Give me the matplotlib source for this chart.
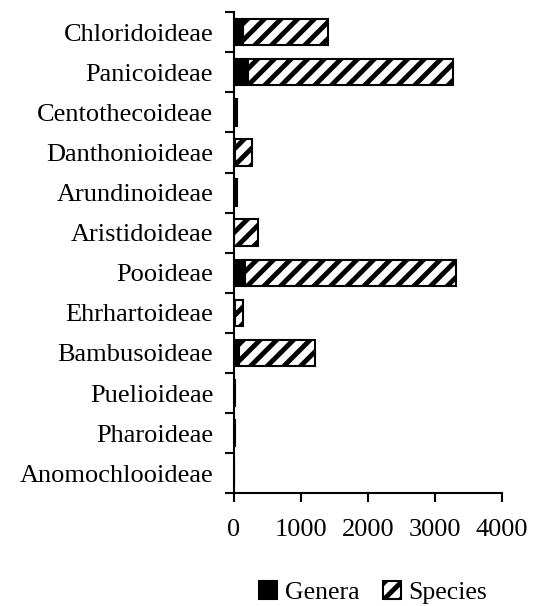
import numpy as np
import matplotlib.pyplot as plt

plt.rcParams['font.family'] = ['Liberation Serif', 'DejaVu Serif']
plt.rcParams['hatch.linewidth'] = 3.5

# Подсемейства злаков (сверху вниз)
subfamilies = ['Chloridoideae', 'Panicoideae', 'Centothecoideae', 'Danthonioideae',
               'Arundinoideae', 'Aristidoideae', 'Pooideae', 'Ehrhartoideae',
               'Bambusoideae', 'Puelioideae', 'Pharoideae', 'Anomochlooideae']
genera = [140, 210, 11, 19, 12, 3, 160, 21, 80, 2, 3, 2]
species = [1270, 3070, 40, 250, 30, 350, 3160, 110, 1130, 11, 12, 4]

y = np.arange(len(subfamilies))

fig = plt.figure(figsize=(5.33, 6.06), dpi=100)
ax = fig.add_axes([0.439, 0.186, 0.502, 0.794])

ax.barh(y, genera, height=0.66, color='black', edgecolor='black', linewidth=1.5, label='Genera')
ax.barh(y, species, left=genera, height=0.66, color='white', edgecolor='black',
        linewidth=1.5, hatch='//', label='Species')

ax.set_xlim(0, 4000)
ax.set_ylim(len(subfamilies) - 0.5, -0.5)
ax.set_xticks([0, 1000, 2000, 3000, 4000])

# Риски на границах категорий, подписи по центру
ax.set_yticks(np.arange(len(subfamilies) + 1) - 0.5)
ax.set_yticklabels([])
ax.set_yticks(y, minor=True)
ax.set_yticklabels(subfamilies, minor=True)

for s in ['top', 'right']:
    ax.spines[s].set_visible(False)
for s in ['left', 'bottom']:
    ax.spines[s].set_linewidth(1.5)

ax.tick_params(axis='both', which='major', direction='out', length=6.3, width=1.5, labelsize=19)
ax.tick_params(axis='x', pad=12)
ax.tick_params(axis='y', which='minor', length=0, pad=15, labelsize=19)

fig.legend(loc='center', bbox_to_anchor=(0.70, 0.022), ncol=2, frameon=False, fontsize=18.5,
           handlelength=0.7, handleheight=0.7, columnspacing=0.9, handletextpad=0.3)

plt.savefig('out.png', dpi=100)
